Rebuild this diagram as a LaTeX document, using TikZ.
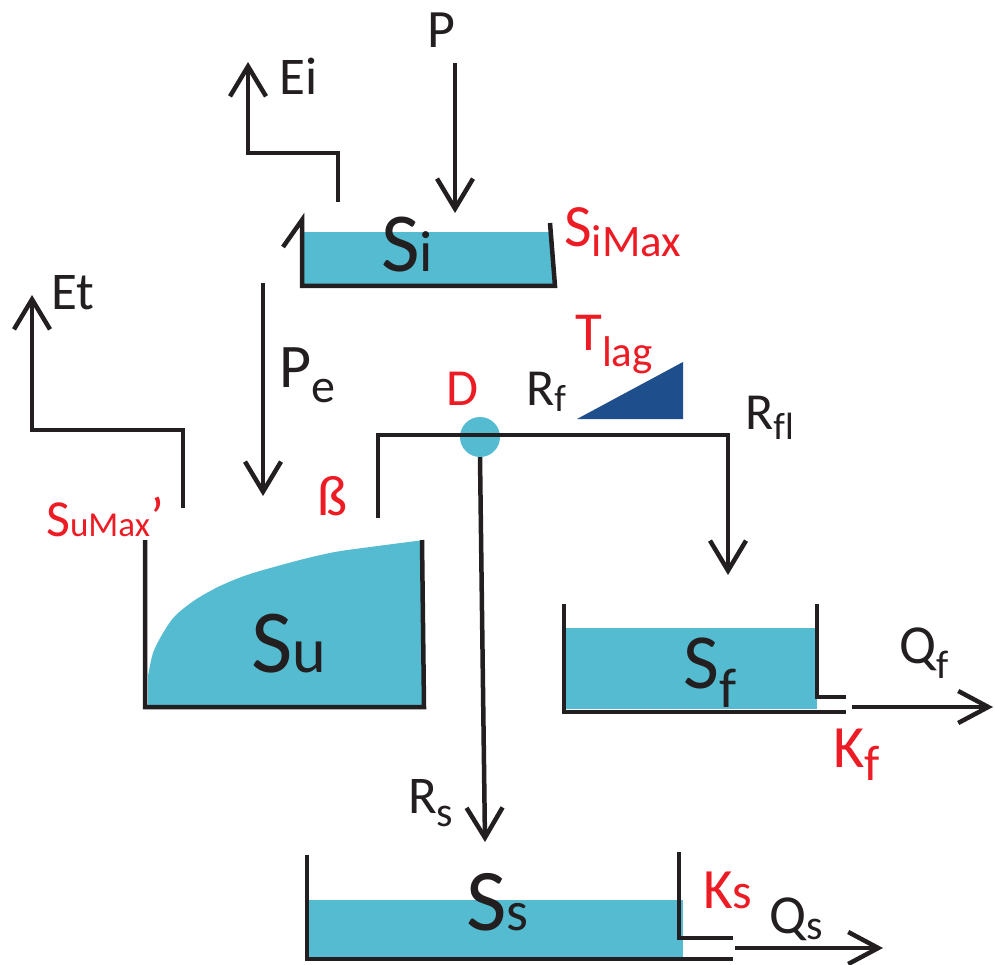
\documentclass[tikz,border=0pt]{standalone}
\usepackage{fontspec}
\setmainfont{Carlito}
\usetikzlibrary{arrows.meta}
\definecolor{water}{RGB}{84,187,208}
\definecolor{ink}{RGB}{35,31,32}
\definecolor{lbl}{RGB}{237,28,36}
\definecolor{lagblue}{RGB}{31,78,140}
\newcommand{\fsz}[1]{\fontsize{#1}{#1}\selectfont}
\begin{document}
\begin{tikzpicture}[x=1pt,y=-1pt,
  wall/.style={draw=ink,line width=4.5pt,line join=miter},
  flow/.style={draw=ink,line width=4.5pt,-{Straight Barb[length=30pt,width=36pt]}},
  outflow/.style={draw=ink,line width=4.5pt,-{Straight Barb[length=30pt,width=32pt]}},
  waterfill/.style={fill=water,draw=none},
  lab/.style={anchor=base west,inner sep=0pt,text=ink},
  param/.style={anchor=base west,inner sep=0pt,text=lbl}]
\useasboundingbox (0,0) rectangle (995,965);

% ---------- water fills ----------
\fill[waterfill] (302,232) rectangle (553,285);
\fill[waterfill] (148,707) -- plot[smooth] coordinates {(148,676) (153,653) (163,633) (175,616) (195,600) (220,586) (250,574) (300,560) (335,552) (370,547) (424,540)} -- (422,707) -- cycle;
\fill[waterfill] (565,628) rectangle (817,709);
\fill[waterfill] (309,900) rectangle (683,957);

% ---------- coordinates ----------
\coordinate (Ptop) at (455,63);
\coordinate (Pend) at (455,213);
\coordinate (EiFrom) at (338,202);
\coordinate (EiTo) at (248,62);
\coordinate (PeTop) at (263,283);
\coordinate (PeEnd) at (263,496);
\coordinate (EtFrom) at (183,508);
\coordinate (EtTo) at (32,295);
\coordinate (BetaFrom) at (378,518);
\coordinate (SfIn) at (728,575);
\coordinate (RsTip) at (485,842);
\coordinate (QfFrom) at (852,707);
\coordinate (QfTo) at (993,707);
\coordinate (QsFrom) at (735,948);
\coordinate (QsTo) at (883,948);

% ---------- tanks ----------
\draw[wall] (283,247) -- (302,220) -- (302,286) -- (555,286) -- (550,223);
\draw[wall] (145,540) -- (145,707) -- (424,707) -- (422,540);
\draw[wall] (564,604) -- (564,712) -- (846,712);
\draw[wall] (817,604) -- (817,697) -- (846,697);
\draw[wall] (307,855) -- (307,959) -- (733,959);
\draw[wall] (679,852) -- (679,938) -- (733,938);

% ---------- lag triangle ----------
\fill[lagblue] (577,419) -- (683,419) -- (683,362) -- cycle;

% ---------- fluxes ----------
\draw[flow] (Ptop) -- (Pend);
\draw[flow] (EiFrom) -- (338,153) -- (248,153) -- (EiTo);
\draw[flow] (PeTop) -- (PeEnd);
\draw[flow] (EtFrom) -- (183,430) -- (32,430) -- (EtTo);
\node[circle,fill=water,minimum size=40pt,inner sep=0pt] (D) at (480,437) {};
\draw[flow] (D.south) -- (RsTip);
\draw[flow] (BetaFrom) -- (378,435) -- (728,435) -- (SfIn);
\draw[outflow] (QfFrom) -- (QfTo);
\draw[outflow] (QsFrom) -- (QsTo);

% ---------- labels ----------
\node[lab] (Plab) at (427,48) {\fsz{54}P};
\node[lab] (Eilab) at (279,95) {\fsz{53}Ei};
\node[lab] (Silab) at (381,272) {\fsz{84}S\fsz{58}i};
\node[param] (SiMax) at (564,247) {\fsz{60}S\raisebox{-10pt}{\fsz{45}iMax}};
\node[lab] (Etlab) at (51,309) {\fsz{53}Et};
\node[lab] (Pelab) at (279,387) {\fsz{62}P\raisebox{-15pt}{\fsz{48}e}};
\node[param] (SuMax) at (46,536) {\fsz{52}S\fsz{35}uMax\fsz{56}’};
\node[param] (beta) at (317,515) {\fsz{57}ß};
\node[lab] (Sulab) at (251,672) {\fsz{90}S\fsz{64}u};
\node[param] (Dlab) at (446,405) {\fsz{52}D};
\node[lab] (Rflab) at (526,405) {\fsz{52}R\raisebox{-6pt}{\fsz{38}f}};
\node[param] (Tlag) at (575,350) {\fsz{55}T\raisebox{-16pt}{\fsz{43}lag}};
\node[lab] (Rfllab) at (745,429) {\fsz{52}R\raisebox{-10pt}{\fsz{38}f\kern0pt l}};
\node[lab] (Sflab) at (683,688) {\fsz{78}S\raisebox{-19pt}{\fsz{56}f}};
\node[lab] (Qflab) at (899,663) {\fsz{55}Q\raisebox{-15pt}{\fsz{40}f}};
\node[param] (Kflab) at (833,767) {\fsz{60}K\raisebox{-13pt}{\fsz{50}f}};
\node[lab] (Rslab) at (408,813) {\fsz{53}R\raisebox{-13pt}{\fsz{42}s}};
\node[lab] (Sslab) at (466,930) {\fsz{88}S\fsz{56}s};
\node[param] (Kslab) at (703,908) {\fsz{57}K\fsz{50}s};
\node[lab] (Qslab) at (769,933) {\fsz{55}Q\raisebox{-6pt}{\fsz{42}s}};
\end{tikzpicture}
\end{document}
